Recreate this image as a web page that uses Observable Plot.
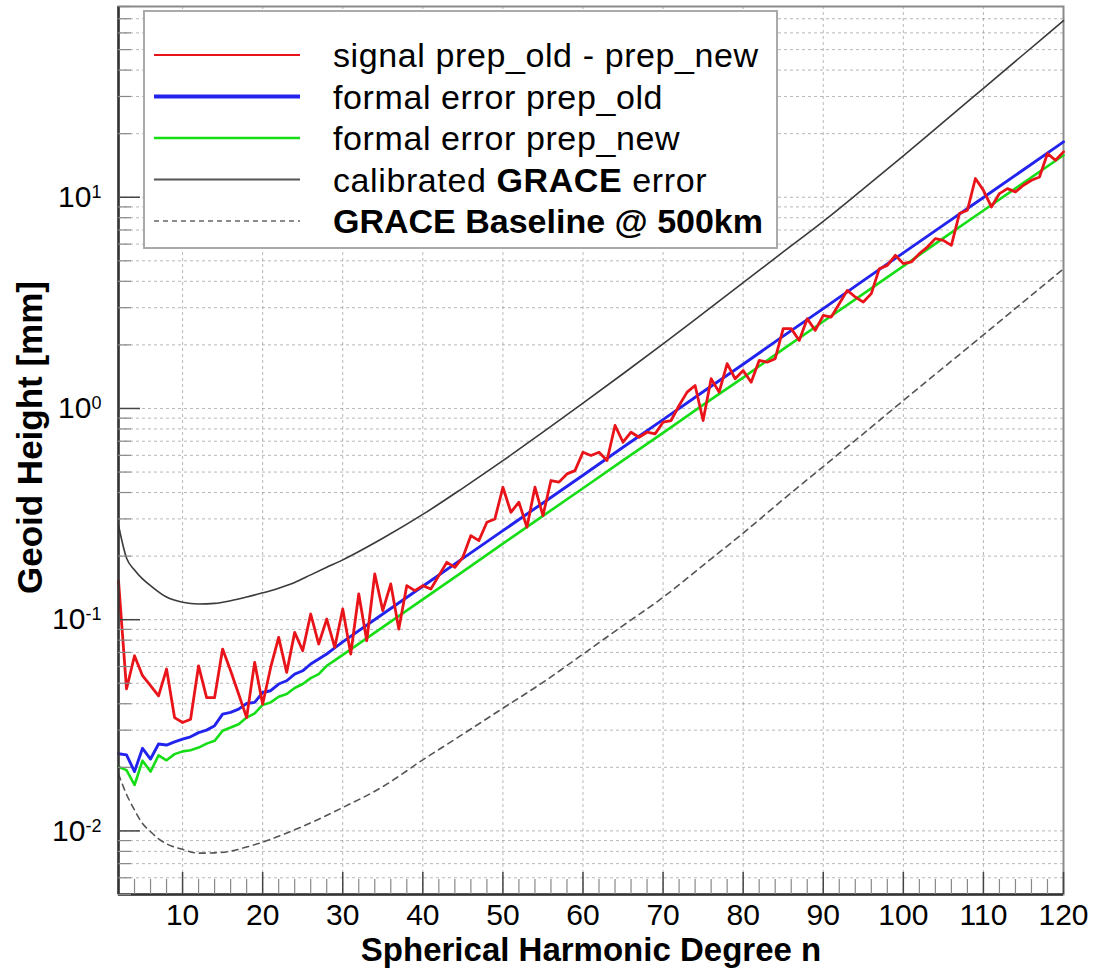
<!DOCTYPE html>
<html><head><meta charset="utf-8">
<script src="https://cdn.jsdelivr.net/npm/d3@7"></script>
<script src="https://cdn.jsdelivr.net/npm/@observablehq/plot@0.6"></script>
<style>
body{margin:0;background:#fff;}
#wrap{position:relative;width:1097px;height:970px;font-family:"Liberation Sans",Arial,sans-serif;}
#legend{position:absolute;left:143px;top:10px;width:631px;height:235px;background:#fff;border:2px solid #aaa;}
</style></head><body><div id="wrap"><div id="legend"></div></div>
<script>
// ---- data ----
const redDegrees = d3.range(2, 121);
const redSignal = [0.153,0.047,0.0675,0.0543,0.0487,0.0436,0.0584,0.0344,0.0326,0.0338,
0.0605,0.0428,0.0428,0.0726,0.0573,0.0445,0.0344,0.0628,0.0398,0.0594,
0.0825,0.0563,0.0871,0.0713,0.1064,0.0767,0.1007,0.0739,0.1124,0.0688,
0.1324,0.0795,0.1646,0.1104,0.1477,0.0903,0.145,0.1372,0.145,0.1397,
0.1617,0.1869,0.177,0.1973,0.2501,0.2367,0.2891,0.3,0.4237,0.3226,
0.3598,0.274,0.4237,0.311,0.456,0.448,0.49,0.508,0.621,0.599,
0.621,0.567,0.831,0.692,0.772,0.731,0.772,0.758,0.861,0.877,
1.033,1.195,1.285,0.877,1.383,1.195,1.629,1.383,1.513,1.332,
1.689,1.656,1.72,2.387,2.387,2.1,2.661,2.343,2.758,2.709,
3.134,3.624,3.37,3.19,3.496,4.59,4.76,5.31,4.85,4.94,
5.41,5.81,6.37,6.25,5.92,8.37,8.68,12.27,10.79,9.0,
10.41,10.99,10.6,11.4,12.04,12.48,16.1,14.96,16.4];

const errDegrees = [2,3,4,5,6,7,8,9,10,11,12,13,14,15,16,17,18,19,20,21,22,23,24,25,26,27,28,29,
30,35,40,45,50,55,60,65,70,75,80,85,90,95,100,105,110,115,120];
const formalOld = [0.0232,0.0229,0.0191,0.0246,0.0219,0.0258,0.0255,0.0264,0.0272,0.0279,
0.0292,0.03,0.0315,0.0357,0.0364,0.0377,0.0401,0.0406,0.0452,0.0461,0.0496,0.0514,0.0553,0.0573,
0.0617,0.0651,0.0688,0.0735,
0.0785,0.1064,0.1439,0.195,0.264,0.357,0.483,0.655,0.885,1.2,1.62,2.2,2.97,4.03,5.45,7.38,9.98,13.5,18.3];
const formalNew = [0.0201,0.0194,0.0165,0.0215,0.0191,0.0228,0.0216,0.0231,0.0238,0.0241,
0.0248,0.0259,0.0267,0.0298,0.0309,0.032,0.0344,0.036,0.0395,0.0406,0.0432,0.0445,0.0475,0.0496,
0.0529,0.0553,0.0605,0.0642,
0.0681,0.0922,0.1248,0.169,0.229,0.31,0.419,0.568,0.767,1.04,1.4,1.91,2.58,3.49,4.72,6.4,8.65,11.7,15.8];

const curveDegrees = [2,3,4,5,6,8,10,12,14,16,18,20,22,24,26,28,30,35,40,45,50,55,60,65,70,75,80,85,90,95,100,105,110,115,120];
const calibrated = [0.28,0.196,0.172,0.156,0.145,0.128,0.121,0.1187,0.1195,0.123,0.128,0.134,0.141,0.15,0.163,0.177,
0.192,0.243,0.315,0.42,0.566,0.773,1.06,1.46,2.02,2.82,3.94,5.51,7.69,10.96,15.7,22.7,32.8,47.4,68.5];
const baselineDegrees = [2,3,4,5,6,7,8,10,12,14,16,18,20,22,25,30,35,40,45,50,55,60,65,70,75,80,85,90,95,100,105,110,115,120];
const baseline = [0.0186,0.0149,0.01256,0.01084,0.00993,0.00918,0.00869,0.00818,0.00785,0.00787,0.00802,0.00839,
0.00885,0.00944,0.0105,0.0129,0.0162,0.0217,0.0287,0.0381,0.0505,0.0687,0.0938,0.1276,0.181,0.257,0.371,0.531,
0.759,1.09,1.56,2.23,3.2,4.58];

const xMajorTicks = [10,20,30,40,50,60,70,80,90,100,110,120];
const xGridTicks = [10,20,30,40,50,60,70,80,90,100,110];
const xMinorTicks = d3.range(4, 120, 2).filter(d => d % 10 !== 0);
const yMajorTicks = [0.01,0.1,1,10];
const yMinorTicks = [0.005,0.006,0.007,0.008,0.009,0.02,0.03,0.04,0.05,0.06,0.07,0.08,0.09,
0.2,0.3,0.4,0.5,0.6,0.7,0.8,0.9,2,3,4,5,6,7,8,9,20,30,40,50,60,70,80];

const legendItems = [
  {label: "signal prep_old - prep_new", color: "#e8141a", width: 2.2, dash: null, spacing: 0.6},
  {label: "formal error prep_old", color: "#2323ee", width: 4, dash: null, spacing: 0.6},
  {label: "formal error prep_new", color: "#17dd17", width: 2.5, dash: null, spacing: 0.6},
  {label: "calibrated |GRACE| error", color: "#555", width: 1.8, dash: null, spacing: 0.6},
  {label: "|GRACE Baseline @ 500km|", color: "#666", width: 1.5, dash: "5,4", spacing: 0}
];

// ---- tables ----
const redData = redDegrees.map((n, i) => ({n, v: redSignal[i]}));
const errData = errDegrees.map((n, i) => ({n, old: formalOld[i], nw: formalNew[i]}));
const calData = curveDegrees.map((n, i) => ({n, v: calibrated[i]}));
const baseData = baselineDegrees.map((n, i) => ({n, v: baseline[i]}));

const font = "Liberation Sans, Arial, Helvetica, sans-serif";
const chart = Plot.plot({
  width: 1097, height: 970,
  marginLeft: 118, marginRight: 34, marginTop: 6, marginBottom: 76,
  style: {fontFamily: font, background: "#fff", color: "#000"},
  x: {domain: [2, 120]},
  y: {type: "log", domain: [0.005, 80]},
  marks: [
    Plot.gridX(xGridTicks, {stroke: "#888", strokeOpacity: 0.6, strokeDasharray: "3,3"}),
    Plot.gridY(yMinorTicks.concat(yMajorTicks), {stroke: "#888", strokeOpacity: 0.6, strokeDasharray: "3,3"}),
    Plot.frame({stroke: "#8a8a8a", strokeWidth: 2}),
    Plot.line(baseData, {x: "n", y: "v", stroke: "#555", strokeWidth: 1.6, strokeDasharray: "6,5", curve: "monotone-x"}),
    Plot.line(calData, {x: "n", y: "v", stroke: "#3a3a3a", strokeWidth: 1.6, curve: "monotone-x"}),
    Plot.line(errData, {x: "n", y: "nw", stroke: "#17dd17", strokeWidth: 2.6}),
    Plot.line(errData, {x: "n", y: "old", stroke: "#2323ee", strokeWidth: 2.9}),
    Plot.line(redData, {x: "n", y: "v", stroke: "#e8141a", strokeWidth: 2.8}),
    Plot.ruleX([2], {stroke: "#333", strokeWidth: 2.5}),
    Plot.ruleY([0.005], {stroke: "#333", strokeWidth: 2.5}),
    Plot.axisX(xMinorTicks, {tickSize: -15, tickFormat: () => "", stroke: "#888", strokeWidth: 1.2, label: null}),
    Plot.axisX(xMajorTicks, {tickSize: -22, tickFormat: () => "", stroke: "#444", strokeWidth: 1.5, label: null}),
    Plot.axisX(xMajorTicks, {tickSize: 0, tickPadding: 9, fontSize: 30, label: null}),
    Plot.axisY(yMinorTicks, {tickSize: -13, tickFormat: () => "", stroke: "#888", strokeWidth: 1.2, label: null}),
    Plot.axisY(yMajorTicks, {tickSize: -22, tickFormat: () => "", stroke: "#444", strokeWidth: 1.5, label: null}),
    Plot.axisY(yMajorTicks, {tickSize: 0, tickPadding: 17, fontSize: 30, label: null,
      tickFormat: d => "10^" + Math.round(Math.log10(d))}),
    Plot.text(["Spherical Harmonic Degree n"], {frameAnchor: "bottom", dy: 66, fontSize: 33, fontWeight: "bold"}),
    Plot.text(["Geoid Height [mm]"], {frameAnchor: "left", textAnchor: "middle", dx: -88, dy: -13, rotate: -90,
      fontSize: 35, fontWeight: "bold", letterSpacing: "1px"})
  ]
});

// superscripts on y tick labels
chart.querySelectorAll('[aria-label="y-axis tick label"] text').forEach(t => {
  const s = t.textContent;
  if (!s.includes("^")) return;
  const [b, e] = s.split("^");
  t.textContent = b;
  const ts = document.createElementNS("http://www.w3.org/2000/svg", "tspan");
  ts.setAttribute("dy", "-0.5em");
  ts.setAttribute("font-size", "0.6em");
  ts.textContent = e;
  t.appendChild(ts);
});

const wrap = document.getElementById("wrap");
wrap.insertBefore(chart, wrap.firstChild);

// legend
const lsvg = d3.create("svg").attr("width", 631).attr("height", 235)
  .style("font-family", font).style("display", "block");
legendItems.forEach((it, i) => {
  const cy = 43 + i * 41.5;
  lsvg.append("line").attr("x1", 9).attr("x2", 155).attr("y1", cy).attr("y2", cy)
    .attr("stroke", it.color).attr("stroke-width", it.width)
    .attr("stroke-dasharray", it.dash);
  const t = lsvg.append("text").attr("x", 188).attr("y", cy).attr("dy", "0.36em")
    .attr("font-size", 34).attr("fill", "#000").style("letter-spacing", it.spacing + "px");
  it.label.split("|").forEach((part, j) => {
    if (!part) return;
    t.append("tspan").attr("font-weight", j % 2 ? "bold" : "normal").text(part);
  });
});
document.getElementById("legend").appendChild(lsvg.node());
</script>
</body></html>
